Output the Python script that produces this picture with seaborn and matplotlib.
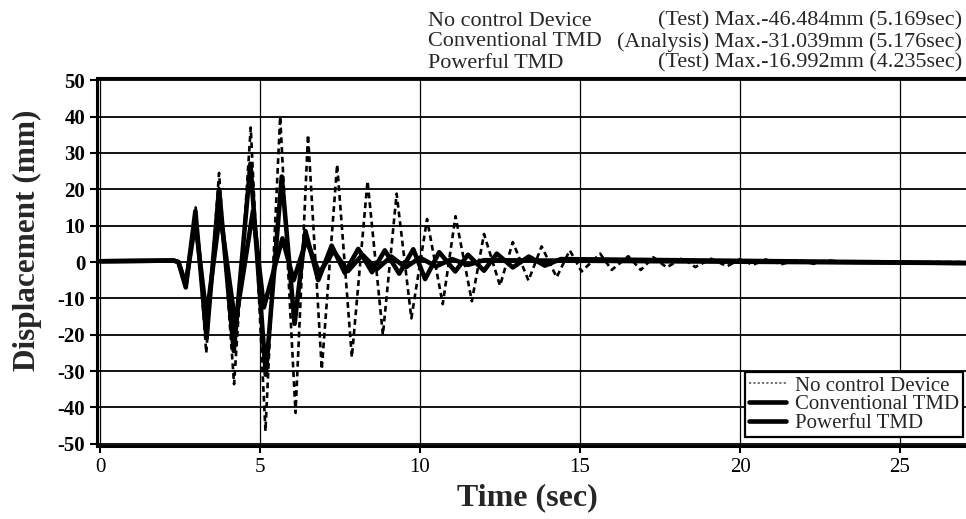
import numpy as np
import pandas as pd
import seaborn as sns
import matplotlib.pyplot as plt

# ---------------------------------------------------------------------------
# Data (peaks / troughs of each response history)
# ---------------------------------------------------------------------------
nocontrol_t = [0.0, 2.30, 2.45, 2.68, 2.99, 3.32, 3.72, 4.19, 4.71, 5.17, 5.63,
               6.11, 6.50, 6.93, 7.41, 7.87, 8.36, 8.84, 9.27, 9.73, 10.22,
               10.71, 11.11, 11.62, 12.00, 12.50, 12.90, 13.39, 13.80, 14.27,
               14.68, 15.05, 15.63, 15.99, 16.51, 16.90, 17.29, 17.71, 18.20,
               18.60, 19.10, 19.60, 20.00, 20.40, 20.80, 21.30, 21.80, 22.30,
               22.70, 23.20, 27.20]
nocontrol_v = [0.2, 0.4, 0.0, -7.0, 15.0, -25.0, 24.5, -33.6, 37.0, -46.5, 40.0,
               -41.5, 35.0, -29.5, 26.8, -26.2, 22.3, -20.0, 18.8, -15.5, 11.8,
               -11.6, 12.6, -10.8, 7.7, -6.5, 5.5, -5.1, 4.3, -4.2,
               3.2, -2.6, 2.3, -2.2, 1.6, -2.2, 1.3, -1.5, 1.1,
               -1.4, 0.9, -1.2, 0.8, -0.8, 0.7, -0.6, 0.6, -0.5,
               0.5, 0.0, 0.0]

conventional_t = [0.0, 2.30, 2.45, 2.68, 2.98, 3.33, 3.72, 4.18, 4.70, 5.18,
                  5.68, 6.08, 6.42, 6.82, 7.24, 7.65, 8.07, 8.50, 8.90, 9.35,
                  9.79, 10.16, 10.60, 11.10, 11.50, 12.00, 12.40, 12.90, 13.40,
                  13.90, 14.40, 27.20]
conventional_v = [0.2, 0.4, 0.0, -7.0, 14.0, -21.0, 20.0, -24.5, 27.0, -31.0,
                  23.5, -17.0, 8.5, -5.0, 4.5, -3.0, 3.6, -2.8, 3.2, -3.2,
                  3.5, -4.7, 2.7, -2.6, 2.0, -2.4, 2.3, -1.5, 1.5,
                  -1.0, 0.8, -0.3]

powerful_t = [0.0, 2.30, 2.45, 2.68, 2.98, 3.33, 3.75, 4.23, 4.78, 5.12, 5.70,
              6.05, 6.45, 6.85, 7.30, 7.75, 8.20, 8.65, 9.10, 9.55, 10.00,
              10.50, 11.00, 11.50, 12.00, 27.20]
powerful_v = [0.2, 0.4, 0.0, -6.0, 11.0, -15.0, 13.6, -17.0, 14.0, -12.5, 6.5,
              -5.0, 6.0, -3.0, 3.0, -2.5, 2.0, -2.0, 1.5, -1.5, 1.2,
              -1.2, 0.8, -0.8, 0.5, -0.3]

header_names = ["No control Device", "Conventional TMD", "Powerful TMD"]
header_info = ["(Test) Max.-46.484mm (5.169sec)",
               "(Analysis) Max.-31.039mm (5.176sec)",
               "(Test) Max.-16.992mm (4.235sec)"]

x_ticks = [0, 5, 10, 15, 20, 25]
y_ticks = [-50, -40, -30, -20, -10, 0, 10, 20, 30, 40, 50]

# ---------------------------------------------------------------------------
# Style
# ---------------------------------------------------------------------------
sns.set_style("ticks")
plt.rcParams['font.family'] = ['Liberation Serif', 'DejaVu Serif']
plt.rcParams['axes.unicode_minus'] = False

W, H = 966, 519
fig = plt.figure(figsize=(W / 100, H / 100), dpi=100)
ax = fig.add_axes([97 / W, 1 - 446 / H, (971 - 97) / W, (446 - 78) / H])

df_nc = pd.DataFrame({"t": nocontrol_t, "v": nocontrol_v})
df_cv = pd.DataFrame({"t": conventional_t, "v": conventional_v})
df_pw = pd.DataFrame({"t": powerful_t, "v": powerful_v})

sns.lineplot(data=df_nc, x="t", y="v", ax=ax, color="black", lw=1.9,
             linestyle=(0, (2.2, 1.5)), estimator=None, sort=False,
             label="No control Device", zorder=3)
sns.lineplot(data=df_cv, x="t", y="v", ax=ax, color="black", lw=3.3,
             estimator=None, sort=False, label="Conventional TMD", zorder=4)
sns.lineplot(data=df_pw, x="t", y="v", ax=ax, color="black", lw=3.3,
             estimator=None, sort=False, label="Powerful TMD", zorder=4)

# ---------------------------------------------------------------------------
# Axes
# ---------------------------------------------------------------------------
ax.set_xlim(-0.094, (971 - 100) / 32)
ax.set_ylim(-50.6, 50.6)
ax.set_xticks(x_ticks)
ax.set_yticks(y_ticks)
ax.grid(True, axis="y", color="black", lw=1.3)
ax.grid(True, axis="x", color="black", lw=0.9)
ax.set_axisbelow(True)

for side in ["left", "bottom", "top"]:
    ax.spines[side].set_linewidth(2.2)
    ax.spines[side].set_color("black")
ax.spines["right"].set_visible(False)

ax.tick_params(axis="both", direction="out", length=5, width=1.5,
               colors="black", labelsize=15)
for lab in ax.get_yticklabels():
    lab.set_fontweight("bold")

ax.set_xlabel("Time (sec)", fontsize=23, fontweight="bold")
ax.xaxis.set_label_coords(527 / W, 1 - 498 / H, transform=fig.transFigure)
ax.xaxis.label.set_va("center")
ax.set_ylabel("Displacement (mm)", fontsize=22.5, fontweight="bold")
ax.yaxis.set_label_coords(27 / W, 1 - 240 / H, transform=fig.transFigure)
ax.yaxis.label.set_va("center")

leg = ax.legend(loc="lower right", bbox_to_anchor=(963 / W, 1 - 437 / H),
                bbox_transform=fig.transFigure, fontsize=15, frameon=True,
                fancybox=False, framealpha=1, edgecolor="black",
                borderpad=0.2, handlelength=1.8, handletextpad=0.4,
                labelspacing=-0.05, borderaxespad=0)
leg.get_frame().set_linewidth(1.6)
leg.get_lines()[0].set_color("#666666")
leg.get_lines()[0].set_linewidth(1.3)
leg.get_lines()[0].set_linestyle((0, (1.2, 1.2)))

# header with peak summary
for i, (name, info) in enumerate(zip(header_names, header_info)):
    yc = 1 - (21 + 21.0 * i) / H
    fig.text(428 / W, yc, name, ha="left", va="center", fontsize=15.9)
    fig.text(962 / W, yc, info, ha="right", va="center", fontsize=15.9)

fig.savefig("out.png", dpi=100, facecolor="white")
